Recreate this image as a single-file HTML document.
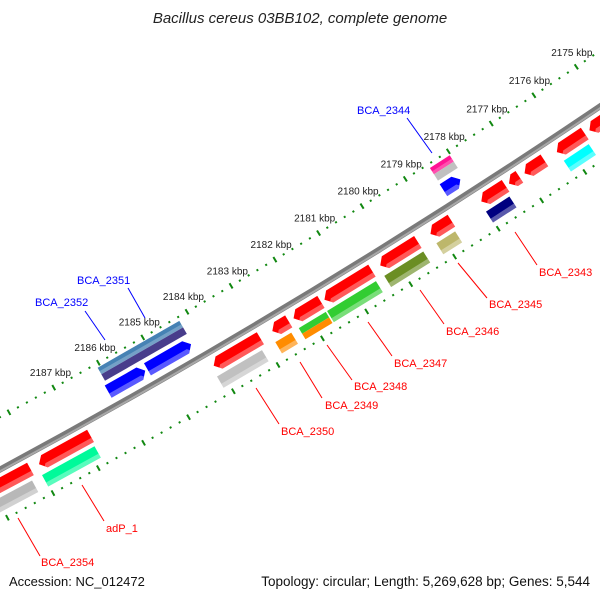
<!DOCTYPE html>
<html><head><meta charset="utf-8"><style>
html,body{margin:0;padding:0;background:#fff;width:600px;height:600px;overflow:hidden;}
svg{display:block;font-family:"Liberation Sans",sans-serif;overflow:hidden;}
</style></head><body>
<svg id="map" width="600" height="600" viewBox="0 0 600 600" xmlns="http://www.w3.org/2000/svg">
<rect x="0" y="0" width="600" height="600" fill="#fff"/>
<g id="ticks"></g>
<circle cx="-3321" cy="-5696" r="7003" fill="none" stroke="#7a7a7a" stroke-width="6"/>
<circle cx="-3321" cy="-5696" r="7004.5" fill="none" stroke="#a8a8a8" stroke-width="2"/>
<g id="feats"></g>
<g id="labels" font-size="11">
<line x1="515" y1="232" x2="537" y2="265" stroke="#f00"/>
<text x="539" y="276" fill="#f00">BCA_2343</text>
<line x1="458" y1="263" x2="487" y2="298" stroke="#f00"/>
<text x="489" y="308" fill="#f00">BCA_2345</text>
<line x1="420" y1="290" x2="444" y2="324" stroke="#f00"/>
<text x="446" y="335" fill="#f00">BCA_2346</text>
<line x1="368" y1="322" x2="392" y2="356" stroke="#f00"/>
<text x="394" y="367" fill="#f00">BCA_2347</text>
<line x1="327" y1="345" x2="352" y2="380" stroke="#f00"/>
<text x="354" y="390" fill="#f00">BCA_2348</text>
<line x1="300" y1="362" x2="322" y2="398" stroke="#f00"/>
<text x="325" y="409" fill="#f00">BCA_2349</text>
<line x1="256" y1="388" x2="279" y2="424" stroke="#f00"/>
<text x="281" y="435" fill="#f00">BCA_2350</text>
<line x1="82" y1="485" x2="104" y2="521" stroke="#f00"/>
<text x="106" y="532" fill="#f00">adP_1</text>
<line x1="18" y1="518" x2="40" y2="556" stroke="#f00"/>
<text x="41" y="566" fill="#f00">BCA_2354</text>
<line x1="407" y1="118" x2="432" y2="153" stroke="#00f"/>
<text x="357" y="114" fill="#00f">BCA_2344</text>
<line x1="128" y1="288" x2="145" y2="318" stroke="#00f"/>
<text x="77" y="284" fill="#00f">BCA_2351</text>
<line x1="85" y1="311" x2="105" y2="340" stroke="#00f"/>
<text x="35" y="306" fill="#00f">BCA_2352</text>
</g>
<text x="300" y="23" text-anchor="middle" font-size="15" font-style="italic" fill="#222">Bacillus cereus 03BB102, complete genome</text>
<text x="9" y="586" font-size="13" fill="#111">Accession: NC_012472</text>
<text x="590" y="586" text-anchor="end" font-size="13.5" fill="#111">Topology: circular; Length: 5,269,628 bp; Genes: 5,544</text>
</svg>
<script>
// tick labels (kbp)
const tickKbp = [2175,2176,2177,2178,2179,2180,2181,2182,2183,2184,2185,2186,2187];
// features: start/end kbp
const featStart = [2174.9,2175.59,2176.53,2177.11,2177.43,2178.68,2179.45,2180.50,2181.66,2182.39,2183.03,2186.83,2188.16];
const featEnd   = [2175.48,2176.24,2176.99,2177.35,2177.99,2179.16,2180.31,2181.58,2182.28,2182.76,2184.08,2187.97,2190.5];
const barStart  = [2174.8,2175.64,2177.48,2178.73,2179.46,2180.54,2181.68,2182.46,2183.12,2186.86,2188.24];
const barEnd    = [2175.0,2176.22,2178.02,2179.16,2180.35,2181.65,2182.29,2182.82,2184.13,2188.02,2190.5];
const barColor  = ["#4682b4","#00ffff","#000080","#bdb76b","#6b8e23","#32cd32","#32cd32","#ff8c00","#c0c0c0","#00fa9a","#b8b8b8"];
const barColor2 = [null,null,null,null,null,null,"#ff8c00",null,null,null,null];
const upArrowStart = [2178.10,2185.28,2184.25];
const upArrowEnd   = [2178.49,2186.11,2185.23];
const upBarStart = [2178.02,2184.22];
const upBarEnd   = [2178.48,2186.06];
const upBarColorA = ["#ff1493","#4682b4"];
const upBarColorB = ["#c0c0c0","#483d8b"];

const CX=-3321, CY=-5696, A0=55.93, DEG=0.421;
function ang(k){return (A0+DEG*(k-2175))*Math.PI/180;}
function P(k,r){const a=ang(k);return [CX+r*Math.cos(a),CY+r*Math.sin(a)];}
function pts(list){return list.map(p=>p[0].toFixed(2)+","+p[1].toFixed(2)).join(" ");}
const NS="http://www.w3.org/2000/svg";
const feats=document.getElementById("feats"), ticks=document.getElementById("ticks");
function poly(parent,list,fill,name,op){
  const e=document.createElementNS(NS,"polygon");
  e.setAttribute("points",pts(list));e.setAttribute("fill",fill);
  if(op!==undefined)e.setAttribute("fill-opacity",op);
  
  
  parent.appendChild(e);return e;
}
function bar(k1,k2,r1,r2,c,name){
  poly(feats,[P(k1,r1),P(k2,r1),P(k2,r2),P(k1,r2)],c,name);
  const rh=r1+(r2-r1)*0.65;
  poly(feats,[P(k1,rh),P(k2,rh),P(k2,r2),P(k1,r2)],"#fff",name+"-shade",0.35);
}
function arrow(kTail,kTip,r1,r2,c,name){
  const h=0.12*Math.sign(kTip-kTail), rm=(r1+r2)/2;
  let kb=kTip-h; if((kb-kTail)*(kTip-kTail)<0)kb=kTail;
  poly(feats,[P(kTail,r1),P(kb,r1),P(kTip,rm),P(kb,r2),P(kTail,r2)],c,name);
  const rh=r1+(r2-r1)*0.65;
  poly(feats,[P(kTail,rh),P(kb,rh),P(kb+h*0.35,r2-(r2-rm)*0.35),P(kb,r2),P(kTail,r2)],"#fff",name+"-shade",0.35);
}
[6957,7049].forEach((r,ri)=>{
  for(let i=2170*5;i<=2192*5;i++){
    const k=i/5, major=(i%5===0);
    const l=document.createElementNS(NS,"line");
    const a=P(k,r-(major?3:1)), b=P(k,r+(major?3:1));
    l.setAttribute("x1",a[0]);l.setAttribute("y1",a[1]);l.setAttribute("x2",b[0]);l.setAttribute("y2",b[1]);
    l.setAttribute("stroke","#118811");l.setAttribute("stroke-width",2);
    
    
    ticks.appendChild(l);
  }
});
tickKbp.forEach(k=>{
  const p=P(k,6940);
  const t=document.createElementNS(NS,"text");
  t.setAttribute("x",p[0]+5);t.setAttribute("y",p[1]+3);t.setAttribute("text-anchor","middle");
  t.setAttribute("font-size","10");t.setAttribute("fill","#222");
  t.textContent=k+" kbp";
  
  
  ticks.appendChild(t);
});
upBarStart.forEach((s,i)=>{
  poly(feats,[P(s,6961),P(upBarEnd[i],6961),P(upBarEnd[i],6968.5),P(s,6968.5)],upBarColorA[i],"upper-bar-a");
  poly(feats,[P(s,6968.5),P(upBarEnd[i],6968.5),P(upBarEnd[i],6976),P(s,6976)],upBarColorB[i],"upper-bar-b");
  poly(feats,[P(s,6965),P(upBarEnd[i],6965),P(upBarEnd[i],6968.5),P(s,6968.5)],"#fff","upper-bar-shade",0.25);
});
upArrowStart.forEach((s,i)=>arrow(upArrowEnd[i],s,6980,6994,"#0000ff","blue-gene-arrow"));
featStart.forEach((s,i)=>arrow(s,featEnd[i],7010,7024,"#ff0000","red-gene-arrow"));
barStart.forEach((s,i)=>{
  if(barColor2[i]){
    poly(feats,[P(s,7028),P(barEnd[i],7028),P(barEnd[i],7034.5),P(s,7034.5)],barColor[i],"feature-bar-a");
    poly(feats,[P(s,7034.5),P(barEnd[i],7034.5),P(barEnd[i],7041),P(s,7041)],barColor2[i],"feature-bar-b");
  } else bar(s,barEnd[i],7028,7041,barColor[i],"feature-bar");
});
</script>
</body></html>
